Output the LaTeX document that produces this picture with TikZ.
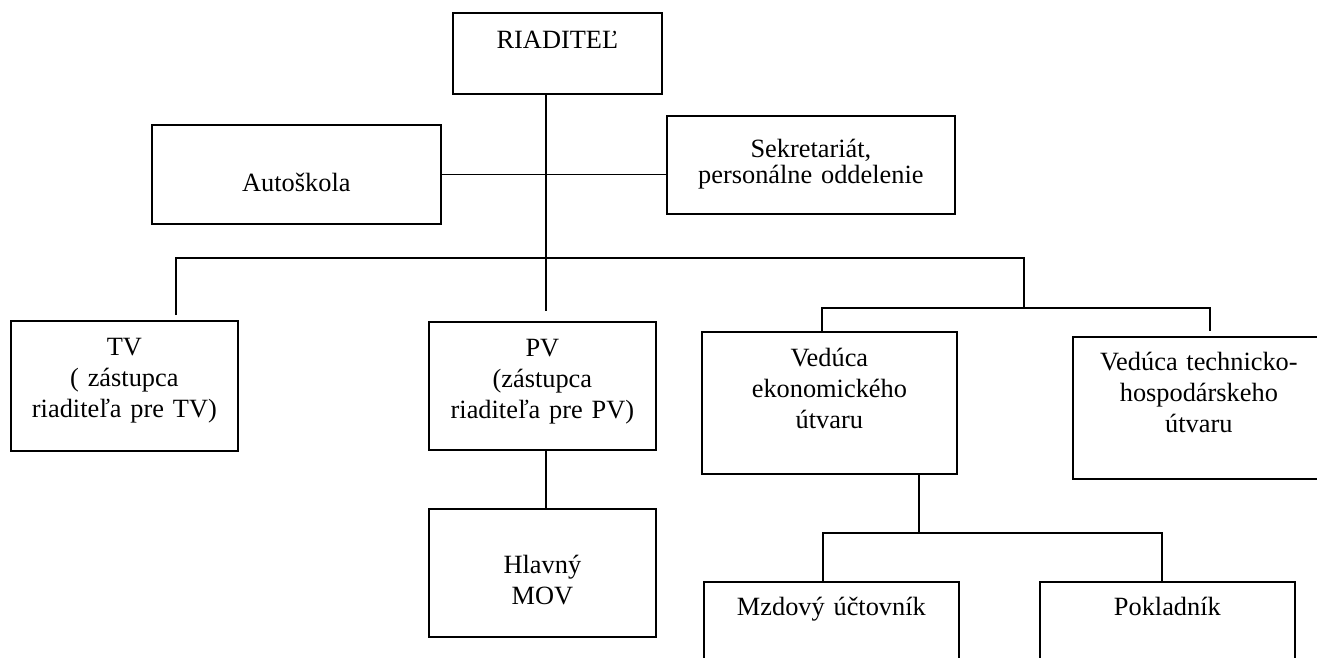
\documentclass[tikz,border=0pt]{standalone}
\usepackage{fontspec}
\setmainfont{Liberation Serif}
\newlength\px
\setlength\px{0.02cm}
\tikzset{
    orgbox/.style n args={3}{draw, line width=1pt, anchor=north west, inner sep=0pt,
        align=center, text width=#1\px, text height=#2\px, text depth=#3\px,
        font=\fontsize{15}{17.4}\selectfont},
    link/.style={line width=1pt}
}
\begin{document}
\begin{tikzpicture}[x=0.02cm, y=-0.02cm]
            \useasboundingbox (0,0) rectangle (1317,657);
            \clip (0,0) rectangle (1317,657);

            % Root node
            \node[orgbox={209}{36}{45}] (riaditel) at (452,12) {RIADITEĽ};

            % Staff units
            \node[orgbox={289}{67}{32}] (autoskola) at (151,124) {Autoškola};
            \node[orgbox={288}{42}{56}, font=\fontsize{15}{14.5}\selectfont] (sekretariat) at (666,115) {Sekretariát,\\personálne oddelenie};
            \draw[link] (autoskola.east) -- (autoskola.east -| sekretariat.west);

            % Second stage nodes
            \node[orgbox={227}{35}{95}] (tv) at (10,320) {TV\\( zástupca\\riaditeľa pre TV)};
            \node[orgbox={227}{35}{93}] (pv) at (428,321) {PV\\(zástupca\\riaditeľa pre PV)};
            \node[orgbox={255}{35}{107}] (vedek) at (701,331) {Vedúca\\ekonomického\\útvaru};
            \node[orgbox={252}{34}{108}] (vedtech) at (1072,336) {Vedúca technicko-\\hospodárskeho\\útvaru};

            \coordinate (trunk) at (546,311);
            \coordinate (tvend) at (176,315);
            \coordinate (bus1r) at (1024,258);
            \coordinate (bus2l) at (822,308);
            \coordinate (bus2r) at (1210,308);
            \draw[link] (riaditel.south -| trunk) -- (trunk);
            \draw[link] (tvend) |- (bus1r) -- (bus1r |- bus2r);
            \draw[link] (vedek.north -| bus2l) -- (bus2l) -- (bus2r) -- ([yshift=-23*0.02cm]bus2r);

            % Third stage nodes
            \node[orgbox={227}{65}{63}] (hlavny) at (428,508) {Hlavný\\MOV};
            \draw[link] (pv.south -| trunk) -- (hlavny.north -| trunk);

            \node[orgbox={255}{34}{120}] (mzdovy) at (703,581) {Mzdový účtovník};
            \node[orgbox={255}{34}{120}] (pokladnik) at (1039,581) {Pokladník};

            \coordinate (ekdown) at (919,533);
            \coordinate (bus3l) at (823,533);
            \coordinate (bus3r) at (1162,533);
            \draw[link] (vedek.south -| ekdown) -- (ekdown);
            \draw[link] (mzdovy.north -| bus3l) -- (bus3l) -- (bus3r) -- (pokladnik.north -| bus3r);
\end{tikzpicture}
\end{document}
